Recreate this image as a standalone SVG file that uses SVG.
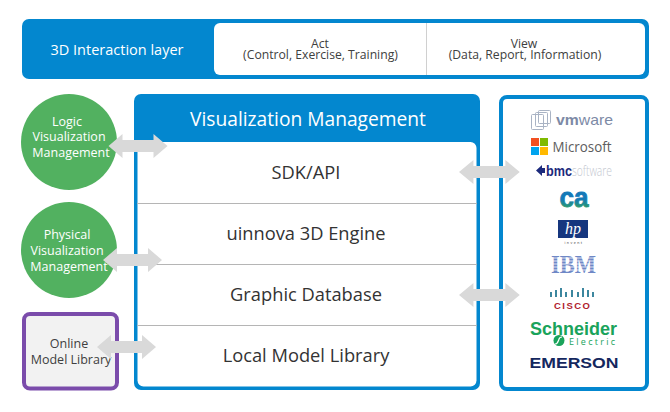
<svg xmlns="http://www.w3.org/2000/svg" width="670" height="412" viewBox="0 0 670 412">
<defs>
<style>
text{font-family:"Open Sans","Noto Sans","DejaVu Sans",sans-serif;text-anchor:middle;fill:#404040}
.s12{font-size:12.200px}
.s13{font-size:12.500px}
.b{font-size:18.300px;fill:#333}
.sep{stroke:#b5b5b5;stroke-width:1}
.arr{fill:#d9d9d9}
.logo{font-family:"Liberation Sans",Arial,sans-serif;font-weight:700}
</style>
<linearGradient id="ca" x1="0" y1="0" x2="0" y2="1"><stop offset="0.550" stop-color="#1479b8"/><stop offset="0.900" stop-color="#2fa35a"/></linearGradient>
<path id="dbl" d="M0 0L14 -12V-6H45V-12L59 0L45 12V6H14V12Z"/>
</defs>
<rect width="670" height="412" fill="#fff"/>
<g id="top-layer">
<rect x="22" y="19" width="627" height="60" rx="7" fill="#0387cf"/>
<rect x="214" y="23" width="431" height="52" rx="6" fill="#fff"/>
<line x1="426.500" y1="23" x2="426.500" y2="75" stroke="#d0d0d0"/>
<text x="117" y="55" font-size="14.500" style="fill:#fff">3D Interaction layer</text>
<text class="s12" x="320" y="47.500">Act</text>
<text class="s12" x="320.500" y="58.500">(Control, Exercise, Training)</text>
<text class="s12" x="524" y="47.500">View</text>
<text class="s12" x="525" y="58.500">(Data, Report, Information)</text>
</g>
<g id="visualization-management">
<rect x="134" y="94" width="346" height="296" rx="7" fill="#0387cf"/>
<rect x="137.500" y="142" width="339" height="244.500" rx="6" fill="#fff"/>
<text x="308" y="125.500" font-size="19.200" style="fill:#fff">Visualization Management</text>
<line class="sep" x1="137" y1="203.500" x2="477" y2="203.500"/>
<line class="sep" x1="137" y1="264.500" x2="477" y2="264.500"/>
<line class="sep" x1="137" y1="325.500" x2="477" y2="325.500"/>
<text class="b" x="306" y="179">SDK/API</text>
<text class="b" x="306" y="240">uinnova 3D Engine</text>
<text class="b" x="306" y="301">Graphic Database</text>
<text class="b" x="306" y="362">Local Model Library</text>
</g>
<g id="logic-visualization">
<circle cx="69" cy="142" r="48" fill="#52b160"/>
<text x="67" y="125.500" class="s13" style="fill:#fff">Logic</text>
<text x="69" y="141" class="s13" style="fill:#fff">Visualization</text>
<text x="71" y="157" class="s13" style="fill:#fff">Management</text>
</g>
<g id="physical-visualization">
<circle cx="69" cy="250" r="48" fill="#52b160"/>
<text x="67" y="239" class="s13" style="fill:#fff">Physical</text>
<text x="67" y="255" class="s13" style="fill:#fff">Visualization</text>
<text x="69" y="271" class="s13" style="fill:#fff">Management</text>
</g>
<g id="online-library">
<rect x="24" y="314" width="93" height="74.500" rx="6" fill="#f2f2f2" stroke="#7b4cab" stroke-width="4"/>
<text x="69" y="348" class="s13">Online</text>
<text x="71" y="364" class="s13">Model Library</text>
</g>
<g id="vendors">
<rect x="501" y="97" width="146" height="292" rx="6" fill="#fff" stroke="#0387cf" stroke-width="4"/>
<g fill="none" stroke="#a9b3c4" stroke-width="1">
<rect x="531.500" y="114.500" width="12" height="15" rx="1"/>
<rect x="535.500" y="112.500" width="12" height="14" rx="1"/>
<rect x="538.500" y="110.500" width="12" height="13" rx="1"/>
</g>
<text x="584.500" y="125" font-size="15" textLength="57" lengthAdjust="spacingAndGlyphs" style="fill:#7d8aa6;font-family:'Liberation Sans',sans-serif"><tspan font-weight="700">vm</tspan>ware</text>
<rect x="531" y="138" width="8" height="8" fill="#f25022"/><rect x="540" y="138" width="8" height="8" fill="#7fba00"/>
<rect x="531" y="147" width="8" height="8" fill="#00a4ef"/><rect x="540" y="147" width="8" height="8" fill="#ffb900"/>
<text x="582" y="152" font-size="14" textLength="59" lengthAdjust="spacingAndGlyphs" style="fill:#5d5d5d">Microsoft</text>
<path d="M536 170.500L542 165V168H545V173H542V176Z" fill="#1c2a7c"/>
<text class="logo" x="559" y="176" font-size="15" textLength="26" lengthAdjust="spacingAndGlyphs" style="fill:#1c2a7c">bmc</text>
<text x="592" y="176" font-size="14" textLength="40" lengthAdjust="spacingAndGlyphs" style="fill:#c4c8d0;font-weight:300">software</text>
<text class="logo" x="574" y="207" font-size="28" textLength="29" lengthAdjust="spacingAndGlyphs" stroke="url(#ca)" stroke-width="0.800" style="fill:url(#ca)">ca</text>
<rect x="558" y="220" width="30" height="18" fill="#16367e"/>
<text x="573" y="234" font-size="16" style="fill:#fff;font-family:'Liberation Serif',serif;font-style:italic">hp</text>
<text x="574" y="244" font-size="3.500" letter-spacing="1.500" style="fill:#333">invent</text>
<text x="573.500" y="273" font-size="26" textLength="45" lengthAdjust="spacingAndGlyphs" style="fill:#6f88c6;font-family:'Liberation Serif',serif;font-weight:700">IBM</text>
<path d="M548 258h52M548 261h52M548 264h52M548 267h52M548 270h52" stroke="#fff" stroke-width="0.800"/>
<g fill="none" stroke="#0d6a88" stroke-width="1.600">
<path d="M551 292v5M556 290v7M561 288v9M566 292v5M572 290v7M578 292v5M583 288v9M588 290v7M593 292v5"/>
</g>
<text class="logo" x="572" y="308.500" font-size="9.500" textLength="36" lengthAdjust="spacing" style="fill:#b01c2e">CISCO</text>
<text class="logo" x="573.500" y="335" font-size="17.500" textLength="87" lengthAdjust="spacingAndGlyphs" style="fill:#1aa35b">Schneider</text>
<text x="592" y="345" font-size="9" textLength="46" lengthAdjust="spacing" style="fill:#1aa35b">Electric</text>
<circle cx="559" cy="340.500" r="5.500" fill="#1aa35b"/>
<path d="M562 337c-3 0-3 2-3.500 3.500S557 344 555 344" fill="none" stroke="#fff" stroke-width="1.200"/>
<text class="logo" x="574" y="368" font-size="15.500" textLength="89" lengthAdjust="spacingAndGlyphs" style="fill:#14275e">EMERSON</text>
</g>
<g id="connectors" class="arr">
<use href="#dbl" x="108.500" y="146"/>
<use href="#dbl" x="103" y="260"/>
<use href="#dbl" x="97" y="347"/>
<use href="#dbl" transform="translate(459 172) scale(1.030 1)"/>
<use href="#dbl" transform="translate(459 295) scale(1.030 1)"/>
</g>
</svg>
